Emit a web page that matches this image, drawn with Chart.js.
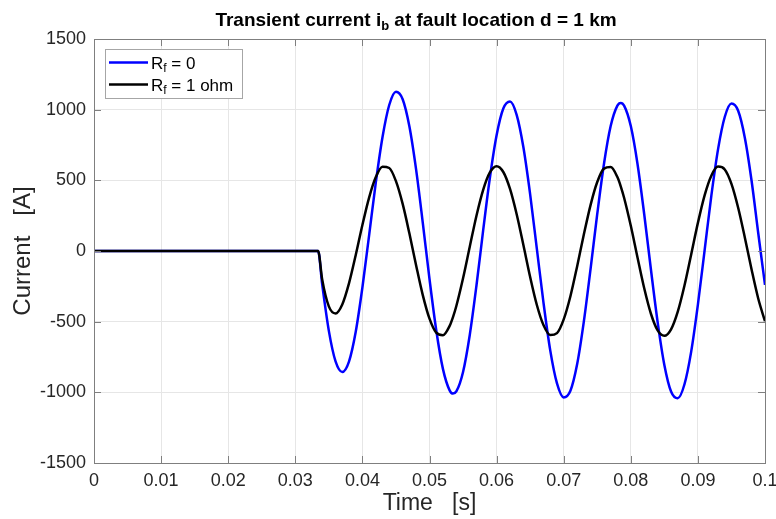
<!DOCTYPE html>
<html>
<head>
<meta charset="utf-8">
<script src="https://cdn.jsdelivr.net/npm/chart.js@4.4.1/dist/chart.umd.min.js"></script>
<style>
body { margin: 0; background: #fff; }
canvas { display: block; }
</style>
</head>
<body>
<canvas id="grafico" width="776" height="519"></canvas>
<script>
// sample times [s]
const tempos = [0, 0.0334,
  0.034, 0.035, 0.036, 0.037, 0.038, 0.039, 0.040, 0.041, 0.042, 0.043,
  0.044, 0.045, 0.046, 0.047, 0.048, 0.049, 0.050, 0.051, 0.052, 0.053, 0.0535,
  0.054, 0.055, 0.056, 0.057, 0.058, 0.059, 0.060, 0.061, 0.062, 0.063,
  0.064, 0.065, 0.066, 0.067, 0.068, 0.069, 0.070, 0.071, 0.072, 0.073,
  0.074, 0.075, 0.076, 0.077, 0.078, 0.0785,
  0.079, 0.080, 0.081, 0.082, 0.083, 0.084, 0.085, 0.086, 0.087, 0.088,
  0.089, 0.090, 0.091, 0.092, 0.093, 0.094, 0.095, 0.096, 0.097, 0.098,
  0.099, 0.100]

const correnteRf0 = [0, 0,
  -233, -565, -781, -856, -782, -573, -258, 111, 485, 807,
  1033, 1127, 1074, 882, 577, 199, -198, -559, -834, -986, -1009,
  -994, -856, -594, -244, 147, 518, 819, 1008, 1058, 962,
  732, 401, 15, -370, -705, -937, -1036, -989, -802, -500,
  -128, 262, 616, 884, 1029, 1048,
  1029, 884, 616, 260, -131, -503, -806, -994, -1042, -943,
  -712, -380, 5, 390, 719, 948, 1043, 992, 800, 497,
  124, -240]

const correnteRf1 = [0, 0,
  -199, -392, -442, -378, -229, -30, 184, 378, 523, 596,
  587, 494, 333, 125, -100, -312, -479, -578, -596, -530, -468,
  -389, -193, 30, 250, 433, 556, 600, 559, 439, 258,
  40, -184, -382, -526, -595, -581, -484, -320, -109, 116,
  325, 488, 583, 594, 523, 458,
  377, 178, -46, -264, -444, -562, -600, -554, -429, -244,
  -24, 199, 394, 533, 597, 577, 475, 306, 94, -131,
  -338, -497]

const xTicks = [0, 0.01, 0.02, 0.03, 0.04, 0.05, 0.06, 0.07, 0.08, 0.09, 0.1]
const xTickLabels = ["0","0.01","0.02","0.03","0.04","0.05","0.06","0.07","0.08","0.09","0.1"]
const yTicks = [-1500, -1000, -500, 0, 500, 1000, 1500]
const yTickLabels = ["-1500","-1000","-500","0","500","1000","1500"]

const titulo = { base: "Transient current i", sub: "b", resto: " at fault location d = 1 km" }
const legendas = [
  { base: "R", sub: "f", resto: " = 0", cor: "#0000ff" },
  { base: "R", sub: "f", resto: " = 1 ohm", cor: "#000000" }
]

const FONTE = "'Liberation Sans', Arial, sans-serif"

function pontos(valores){
  return tempos.map((t, i) => ({ x: t, y: valores[i] }))
}

// draws text with a subscript part, returns end x
function textoSub(ctx, x, y, parte, tam, peso){
  ctx.font = peso + " " + tam + "px " + FONTE
  ctx.fillText(parte.base, x, y)
  x += ctx.measureText(parte.base).width
  ctx.font = peso + " " + Math.round(tam * 0.7) + "px " + FONTE
  ctx.fillText(parte.sub, x, y + tam * 0.22)
  x += ctx.measureText(parte.sub).width
  ctx.font = peso + " " + tam + "px " + FONTE
  ctx.fillText(parte.resto, x, y)
  return x + ctx.measureText(parte.resto).width
}

function larguraSub(ctx, parte, tam, peso){
  ctx.font = peso + " " + tam + "px " + FONTE
  let w = ctx.measureText(parte.base).width + ctx.measureText(parte.resto).width
  ctx.font = peso + " " + Math.round(tam * 0.7) + "px " + FONTE
  return w + ctx.measureText(parte.sub).width
}

const moldura = {
  id: "moldura",
  afterDatasetsDraw(chart){
    const ctx = chart.ctx
    const a = chart.chartArea
    const sx = chart.scales.x
    const sy = chart.scales.y
    ctx.save()
    ctx.strokeStyle = "#7f7f7f"
    ctx.lineWidth = 1
    ctx.beginPath()
    yTicks.forEach(v => {
      const py = Math.round(sy.getPixelForValue(v)) + 0.5
      ctx.moveTo(a.left, py); ctx.lineTo(a.left + 7, py)
      ctx.moveTo(a.right, py); ctx.lineTo(a.right - 7, py)
    })
    xTicks.forEach(v => {
      const px = Math.round(sx.getPixelForValue(v)) + 0.5
      ctx.moveTo(px, a.bottom); ctx.lineTo(px, a.bottom - 7)
      ctx.moveTo(px, a.top); ctx.lineTo(px, a.top + 7)
    })
    ctx.stroke()
    ctx.strokeRect(Math.round(a.left) + 0.5, Math.round(a.top) + 0.5,
      Math.round(a.right - a.left), Math.round(a.bottom - a.top))

    // legend
    const lx = 105, ly = 49, lw = 137, lh = 49
    ctx.fillStyle = "#ffffff"
    ctx.fillRect(lx, ly, lw, lh)
    ctx.strokeStyle = "#a6a6a6"
    ctx.strokeRect(lx + 0.5, ly + 0.5, lw, lh)
    legendas.forEach((item, i) => {
      const yy = 62.5 + i * 22
      ctx.strokeStyle = item.cor
      ctx.lineWidth = 2.5
      ctx.beginPath()
      ctx.moveTo(109, yy); ctx.lineTo(148, yy)
      ctx.stroke()
      ctx.fillStyle = "#000000"
      ctx.textBaseline = "alphabetic"
      ctx.textAlign = "left"
      textoSub(ctx, 151, yy + 6, item, 17, "normal")
    })

    // title
    ctx.fillStyle = "#000000"
    ctx.textBaseline = "alphabetic"
    ctx.textAlign = "left"
    const w = larguraSub(ctx, titulo, 19, "bold")
    textoSub(ctx, 416 - w / 2, 26, titulo, 19, "bold")
    ctx.restore()
  }
}

const ctx = document.getElementById("grafico").getContext("2d")

const grafico = new Chart(ctx, {
  type: "line",
  data: {
    datasets: [
      {
        label: "Rf = 0",
        data: pontos(correnteRf0),
        borderColor: "#0000ff",
        borderWidth: 2.5,
        pointRadius: 0,
        cubicInterpolationMode: "monotone",
        order: 2
      },
      {
        label: "Rf = 1 ohm",
        data: pontos(correnteRf1),
        borderColor: "#000000",
        borderWidth: 2.5,
        pointRadius: 0,
        cubicInterpolationMode: "monotone",
        order: 1
      }
    ]
  },
  options: {
    responsive: false,
    animation: false,
    devicePixelRatio: 1,
    layout: { padding: { top: 39, right: 11, left: 0, bottom: 0 } },
    plugins: {
      legend: { display: false },
      title: { display: false },
      tooltip: { enabled: false }
    },
    scales: {
      x: {
        type: "linear",
        min: 0,
        max: 0.1,
        afterBuildTicks: s => { s.ticks = xTicks.map(v => ({ value: v })) },
        afterFit: s => { s.height = 56; s.paddingLeft = 0; s.paddingRight = 0 },
        ticks: {
          callback: (v, i) => xTickLabels[i],
          color: "#262626",
          font: { family: FONTE, size: 18 },
          padding: 7,
          maxRotation: 0,
          autoSkip: false
        },
        grid: { color: "#e6e6e6", drawTicks: false },
        border: { display: false },
        title: {
          display: true,
          text: "Time   [s]",
          color: "#262626",
          font: { family: FONTE, size: 23 },
          padding: { top: 0, bottom: 2 }
        }
      },
      y: {
        min: -1500,
        max: 1500,
        afterBuildTicks: s => { s.ticks = yTicks.map(v => ({ value: v })) },
        afterFit: s => { s.width = 94; s.paddingTop = 0; s.paddingBottom = 0 },
        ticks: {
          callback: (v, i) => yTickLabels[i],
          color: "#262626",
          font: { family: FONTE, size: 18 },
          padding: 8,
          autoSkip: false
        },
        grid: { color: "#e6e6e6", drawTicks: false },
        border: { display: false },
        title: {
          display: true,
          text: "Current   [A]",
          color: "#262626",
          font: { family: FONTE, size: 24 },
          padding: { top: 9, bottom: 0 }
        }
      }
    }
  },
  plugins: [moldura]
})
</script>
</body>
</html>
